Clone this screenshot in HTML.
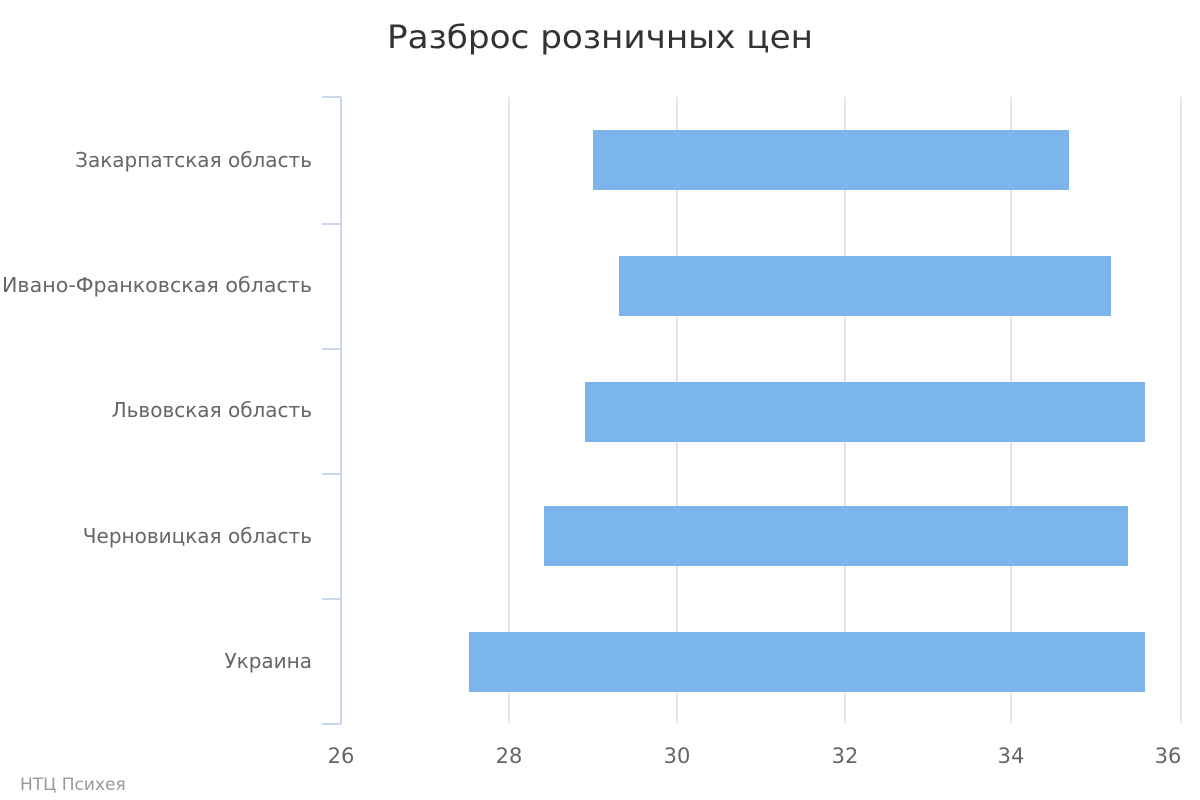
<!DOCTYPE html>
<html><head><meta charset="utf-8"><style>
html,body{margin:0;padding:0;background:#fff;width:1200px;height:800px;overflow:hidden}
svg{display:block}
text{font-family:"DejaVu Sans","Liberation Sans",sans-serif}
</style></head><body>
<svg width="1200" height="800" viewBox="0 0 1200 800">
<text x="600" y="48" text-anchor="middle" font-size="32" fill="#333" textLength="426" lengthAdjust="spacingAndGlyphs">Разброс розничных цен</text>
<g stroke="#e6e6e6" stroke-width="2">
<line x1="509" y1="97" x2="509" y2="723"/>
<line x1="677" y1="97" x2="677" y2="723"/>
<line x1="845" y1="97" x2="845" y2="723"/>
<line x1="1011" y1="97" x2="1011" y2="723"/>
<line x1="1181" y1="97" x2="1181" y2="723"/>
</g>
<g fill="#7cb5ec">
<rect x="593" y="130" width="476" height="60"/>
<rect x="619" y="256" width="492" height="60"/>
<rect x="585" y="382" width="560" height="60"/>
<rect x="544" y="506" width="584" height="60"/>
<rect x="469" y="632" width="676" height="60"/>
</g>
<g stroke="#ccd6eb" stroke-width="2" fill="none">
<line x1="341" y1="97" x2="341" y2="724"/>
<line x1="322" y1="97" x2="341" y2="97"/>
<line x1="322" y1="224" x2="341" y2="224"/>
<line x1="322" y1="349" x2="341" y2="349"/>
<line x1="322" y1="474" x2="341" y2="474"/>
<line x1="322" y1="599" x2="341" y2="599"/>
<line x1="322" y1="724" x2="341" y2="724"/>
</g>
<g font-size="20" fill="#666" text-anchor="end">
<text x="312" y="167">Закарпатская область</text>
<text x="312" y="292" textLength="310" lengthAdjust="spacingAndGlyphs">Ивано-Франковская область</text>
<text x="312" y="417">Львовская область</text>
<text x="312" y="543">Черновицкая область</text>
<text x="312" y="668">Украина</text>
</g>
<g font-size="21" fill="#666" text-anchor="middle">
<text x="341" y="763">26</text>
<text x="509" y="763">28</text>
<text x="677" y="763">30</text>
<text x="845" y="763">32</text>
<text x="1011" y="763">34</text>
<text x="1168" y="763">36</text>
</g>
<text x="20" y="790" font-size="17" fill="#999">НТЦ Психея</text>
</svg>
</body></html>
